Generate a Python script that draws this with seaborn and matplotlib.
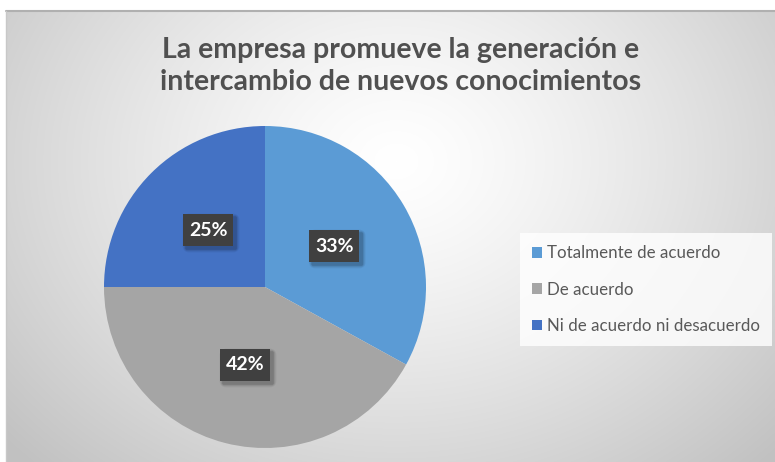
import numpy as np
import matplotlib
matplotlib.use("Agg")
import matplotlib.pyplot as plt
import seaborn as sns
from matplotlib.patches import Patch, FancyBboxPatch

categories = ["Totalmente de acuerdo", "De acuerdo", "Ni de acuerdo ni desacuerdo"]
values = [33, 42, 25]
colors = ["#5B9BD5", "#A5A5A5", "#4472C4"]
title = "La empresa promueve la generación e\nintercambio de nuevos conocimientos"

sns.set_theme(style="white")
plt.rcParams['font.family'] = ['Lato', 'DejaVu Sans']

W, H = 775, 462
fig = plt.figure(figsize=(W / 100, H / 100), dpi=100)
fig.patch.set_facecolor("white")

# background radial gradient (chart area)
bx0, by0 = 6, 11
bg = fig.add_axes([bx0 / W, 0, (W - bx0) / W, (H - by0) / H])
bg.set_axis_off()
yy, xx = np.mgrid[0:H - by0, 0:W - bx0]
cx, cy = 390, 150
d = np.sqrt(((xx - cx) / 520.0) ** 2 + ((yy - cy) / 420.0) ** 2)
d = np.clip(d, 0, 1)
val = 1.0 - 0.24 * d ** 1.3
img = np.dstack([val, val, val])
bg.imshow(img, aspect="auto", extent=[0, 1, 0, 1], origin="upper")
bg.set_xlim(0, 1); bg.set_ylim(0, 1)
fig.add_artist(plt.Line2D([bx0 / W, 1], [1 - by0 / H, 1 - by0 / H], color="#b0b0b0", lw=1.5))
fig.add_artist(plt.Line2D([bx0 / W, bx0 / W], [0, 1 - by0 / H], color="#c8c8c8", lw=1.0))

fig.text(0.5 + 13 / W, 1 - 66 / H, title, ha="center", va="center", fontsize=20.5,
         fontweight="bold", color="#505050", linespacing=1.25)

# pie
pcx, pcy, r = 265, 287, 161
ax = fig.add_axes([(pcx - r) / W, (H - pcy - r) / H, 2 * r / W, 2 * r / H])
wedges, texts = ax.pie(values, colors=colors, startangle=90, counterclock=False,
                       wedgeprops=dict(linewidth=0))
ax.set_xlim(-1, 1); ax.set_ylim(-1, 1)
ax.set_aspect("equal")
ax.set_axis_off()

# data-unit per pixel
u = 1.0 / r
bw, bh = 50 * u, 32 * u
total = sum(values)
start = 90.0
for v in values:
    ang = np.deg2rad(start - v / total * 360 / 2)
    start -= v / total * 360
    x, y = 0.5 * np.cos(ang), 0.5 * np.sin(ang)
    # soft shadow
    for k, a in [(7, 0.04), (5, 0.06), (3, 0.08), (1.5, 0.10)]:
        sh = FancyBboxPatch((x - bw / 2 + 3 * u - k * u / 2, y - bh / 2 - 3 * u - k * u / 2),
                            bw + k * u, bh + k * u, boxstyle="round,pad=0,rounding_size=%f" % (k * u),
                            fc=(0, 0, 0, a), ec="none", zorder=3)
        ax.add_patch(sh)
    ax.add_patch(FancyBboxPatch((x - bw / 2, y - bh / 2), bw, bh, boxstyle="square,pad=0",
                                fc="#404040", ec="none", zorder=4))
    ax.text(x, y, f"{v}%", ha="center", va="center", fontsize=14,
            fontweight="bold", color="white", zorder=5)

handles = [Patch(facecolor=c, edgecolor="none", label=l) for c, l in zip(colors, categories)]
leg = fig.legend(handles=handles, loc="upper left", bbox_to_anchor=(520 / W, 1 - 233 / H),
                 frameon=True, fontsize=12.2, labelcolor="#595959", handlelength=0.6,
                 handleheight=0.6, handletextpad=0.25, labelspacing=1.2, borderpad=0.72,
                 borderaxespad=0.0, fancybox=False)
leg.get_frame().set_facecolor((1, 1, 1, 0.12))
leg.get_frame().set_edgecolor("none")

fig.savefig("out.png", dpi=100)
